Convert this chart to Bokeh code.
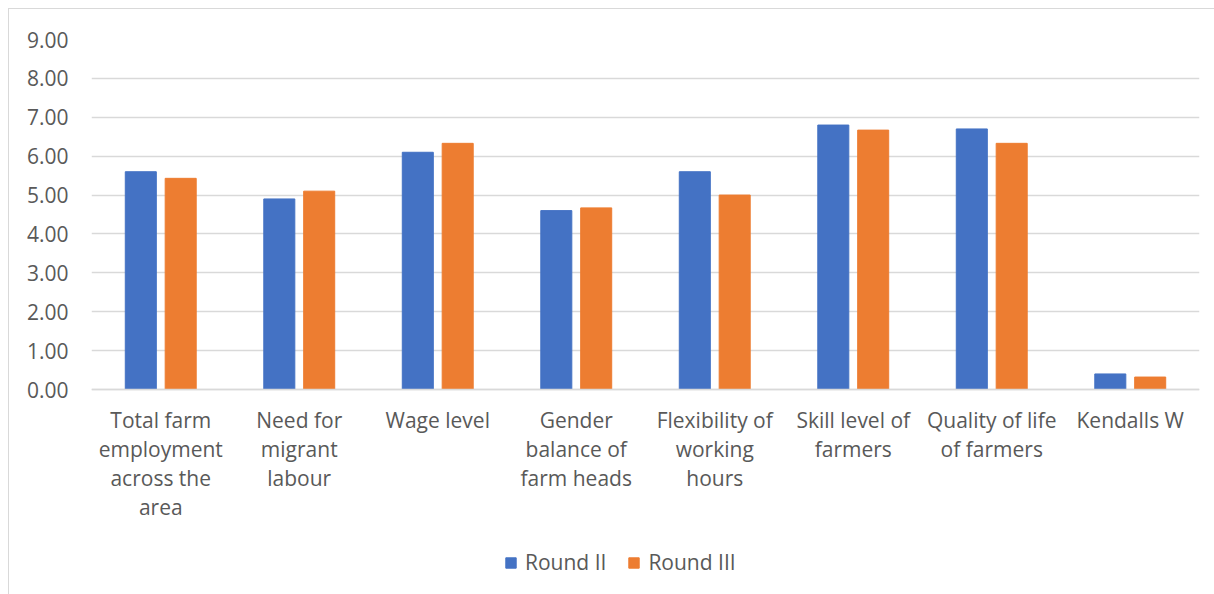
from bokeh.plotting import figure
from bokeh.models import FactorRange, Range1d, Legend, LegendItem, NumeralTickFormatter, FixedTicker
from bokeh.transform import dodge
from bokeh.embed import file_html
from bokeh.resources import INLINE

categories = [
    "Total farm\nemployment\nacross the\narea",
    "Need for\nmigrant\nlabour",
    "Wage level",
    "Gender\nbalance of\nfarm heads",
    "Flexibility of\nworking\nhours",
    "Skill level of\nfarmers",
    "Quality of life\nof farmers",
    "Kendalls W",
]
round_ii = [5.60, 4.90, 6.10, 4.60, 5.60, 6.80, 6.70, 0.40]
round_iii = [5.43, 5.10, 6.33, 4.67, 5.00, 6.67, 6.33, 0.32]
series_names = ["Round II", "Round III"]
y_ticks = [0, 1, 2, 3, 4, 5, 6, 7, 8, 9]

FONT = "Open Sans"
TXT = "#595959"
GRID = "#d9d9d9"
BLUE = "#4472C4"
ORANGE = "#ED7D31"

W, H = 1206, 586
TOP, BOTTOM = 30, 0
PX_PER_UNIT = 350.0 / 9.0
y_lo = 9 - (H - TOP - BOTTOM) / PX_PER_UNIT

p = figure(
    x_range=FactorRange(*categories, range_padding=0),
    y_range=Range1d(y_lo, 9),
    width=W, height=H,
    output_backend="svg", toolbar_location=None,
    min_border_left=82, min_border_right=16, min_border_top=TOP, min_border_bottom=BOTTOM,
)
p.styles = {"margin-left": "8px", "margin-top": "8px",
            "border-left": "1px solid #d9d9d9", "border-top": "1px solid #d9d9d9"}
p.outline_line_color = None
p.background_fill_color = "white"
p.border_fill_color = "white"

src = dict(cat=categories, r2=round_ii, r3=round_iii)
r1 = p.vbar(x=dodge("cat", -0.144, range=p.x_range), top="r2", width=0.224,
            source=src, fill_color=BLUE, line_color=BLUE)
r2 = p.vbar(x=dodge("cat", 0.144, range=p.x_range), top="r3", width=0.224,
            source=src, fill_color=ORANGE, line_color=ORANGE)

p.xgrid.grid_line_color = None
p.ygrid.grid_line_color = GRID
p.ygrid.grid_line_width = 1.3
p.ygrid.ticker = FixedTicker(ticks=y_ticks)

p.yaxis.ticker = FixedTicker(ticks=y_ticks)
p.yaxis.formatter = NumeralTickFormatter(format="0.00")
p.yaxis.axis_line_color = None
p.yaxis.major_tick_line_color = None
p.yaxis.minor_tick_line_color = None
p.yaxis.major_label_standoff = 17
p.yaxis.major_label_text_font = FONT
p.yaxis.major_label_text_font_size = "21px"
p.yaxis.major_label_text_color = TXT

p.xaxis.fixed_location = 0
p.xaxis.axis_line_color = GRID
p.xaxis.axis_line_width = 1.3
p.xaxis.major_tick_line_color = None
p.xaxis.minor_tick_line_color = None
p.xaxis.major_label_standoff = 10
p.xaxis.major_label_text_font = FONT
p.xaxis.major_label_text_font_size = "21px"
p.xaxis.major_label_text_color = TXT
p.xaxis.major_label_text_line_height = 1.04
p.xaxis.major_label_orientation = "horizontal"

legend = Legend(
    items=[LegendItem(label=series_names[0], renderers=[r1]),
           LegendItem(label=series_names[1], renderers=[r2])],
    orientation="horizontal",
    location=(413, 19),
    glyph_width=13, glyph_height=13,
    label_standoff=8, spacing=21, padding=0, margin=0,
    label_text_font=FONT, label_text_font_size="21px", label_text_color=TXT,
    border_line_color=None, background_fill_alpha=0,
)
p.add_layout(legend, "center")

open("out.html", "w").write(file_html(p, INLINE))
